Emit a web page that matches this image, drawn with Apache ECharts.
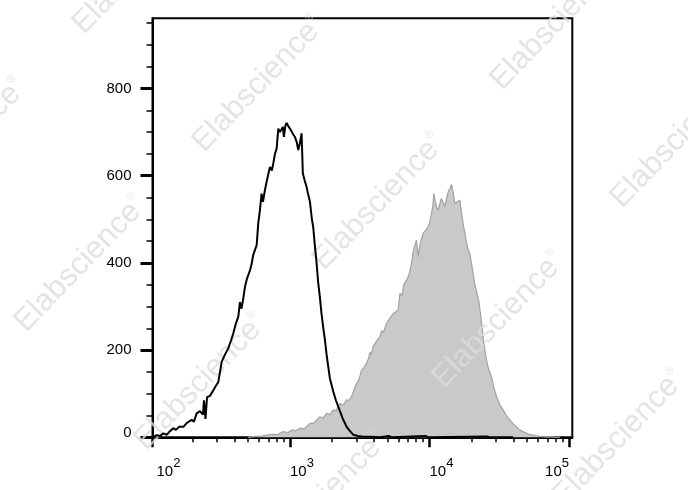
<!DOCTYPE html>
<html>
<head>
<meta charset="utf-8">
<script src="https://cdn.jsdelivr.net/npm/echarts@6/dist/echarts.min.js"></script>
<style>html,body{margin:0;padding:0;background:#fff}#c{width:688px;height:490px}</style>
</head>
<body>
<div id="c"></div>
<script>
// log10 fluorescence intensity (x) and event counts (y)
var blackLogX = [2.015,2.046,2.068,2.091,2.118,2.139,2.163,2.182,2.204,2.235,2.261,2.295,2.311,2.331,2.354,2.376,2.383,2.394,2.405,2.426,2.450,2.469,2.486,2.498,2.510,2.534,2.557,2.577,2.593,2.613,2.629,2.641,2.652,2.665,2.677,2.689,2.698,2.713,2.723,2.736,2.748,2.761,2.772,2.784,2.796,2.806,2.820,2.835,2.856,2.870,2.880,2.892,2.904,2.916,2.928,2.940,2.949,2.956,2.967,2.976,2.985,2.999,3.014,3.024,3.035,3.049,3.059,3.071,3.083,3.092,3.106,3.119,3.128,3.143,3.157,3.166,3.178,3.189,3.202,3.214,3.226,3.238,3.250,3.262,3.274,3.286,3.310,3.329,3.358,3.379,3.406,3.430,3.453,3.487,3.516,3.549,3.587,3.644,3.709,3.730,3.975,3.990,4.411,4.430,4.600];
var blackCount = [1,5,3,9,6,14,21,17,24,24,33,40,36,55,60,52,85,42,92,95,108,118,127,150,173,190,204,222,238,262,276,310,295,319,345,361,370,383,395,418,414,441,490,520,559,540,567,590,620,612,628,650,662,708,700,704,712,689,715,721,715,708,700,694,689,676,659,675,697,605,588,574,560,540,500,483,440,405,355,322,283,252,224,190,162,135,105,85,60,42,24,14,6,3,2,1,1,0,3,0,3,0,2,0,0];
var greyLogX = [2.700,2.748,2.799,2.832,2.870,2.906,2.951,2.985,3.014,3.042,3.071,3.100,3.128,3.143,3.166,3.186,3.214,3.236,3.262,3.286,3.310,3.329,3.358,3.381,3.406,3.422,3.441,3.458,3.477,3.494,3.513,3.530,3.549,3.562,3.573,3.583,3.596,3.619,3.644,3.659,3.669,3.692,3.709,3.723,3.740,3.759,3.775,3.788,3.802,3.816,3.836,3.849,3.859,3.871,3.881,3.890,3.907,3.919,3.931,3.943,3.955,3.974,3.990,4.003,4.015,4.024,4.031,4.038,4.049,4.062,4.074,4.085,4.095,4.110,4.120,4.134,4.146,4.158,4.164,4.171,4.182,4.196,4.217,4.228,4.241,4.253,4.266,4.278,4.289,4.300,4.313,4.325,4.337,4.354,4.373,4.390,4.409,4.425,4.445,4.461,4.481,4.504,4.528,4.551,4.576,4.597,4.624,4.647,4.671,4.698,4.719,4.743,4.776,4.805,4.839,4.877,4.934];
var greyCount = [0,2,3,5,7,6,13,11,17,15,21,19,28,32,32,38,47,44,55,52,63,60,78,74,86,84,93,108,124,132,154,160,170,180,195,190,208,220,231,245,240,261,270,268,284,288,292,330,325,350,361,370,380,399,420,435,452,414,440,455,468,475,483,495,514,530,559,556,530,521,535,548,540,529,545,563,570,580,583,560,536,540,544,520,490,470,445,430,422,400,376,350,335,312,265,215,177,155,139,115,93,75,63,50,40,32,24,17,13,9,6,5,3,2,1,1,0];

var xMin = 2.014, xMax = 5.024;
var yMin = 0, yMax = 961;
var xMajorTicks = [2.014, 3, 4, 5];
var xMajorLabels = [2.014, 3, 4];
var xLastLabel = [5];
var xMinorTicks = [2.301,2.477,2.602,2.699,2.778,2.845,2.903,2.954,3.301,3.477,3.602,3.699,3.778,3.845,3.903,3.954,4.301,4.477,4.602,4.699,4.778,4.845,4.903,4.954];
var yMajorTicks = [0, 200, 400, 600, 800];
var yMinorTicks = [50,100,150,250,300,350,450,500,550,650,700,750,850,900,950];
var watermarkText = 'Elabscience';
var watermarkSpots = [[195,150],[315,268],[435,386],[555,504],[75,32],[17,330],[137,448],[257,566],[493,88],[613,206],[-103,212]];

var FONT = "'Liberation Sans', Arial, Helvetica, sans-serif";

function pairs(xs, ys) { return xs.map(function (x, i) { return [x, ys[i]]; }); }

var rich = {
  b: {fontSize: 15, lineHeight: 22, fontFamily: FONT, color: '#000', verticalAlign: 'bottom'},
  p: {fontSize: 15, lineHeight: 22, fontFamily: FONT, color: '#000', verticalAlign: 'bottom', padding: [0, 0, 0, 4]},
  s: {fontSize: 13, lineHeight: 8, fontFamily: FONT, color: '#000', verticalAlign: 'top'}
};
function expLabel(v) {
  var e = Math.round(v);
  return (e === 2 ? '{p|10}' : '{b|10}') + '{s|' + e + '}';
}
var yRich = {
  n: {fontSize: 15, fontFamily: FONT, color: '#000'},
  z: {fontSize: 15, fontFamily: FONT, color: '#000', padding: [0, 0, 8, 0]}
};
function yLabel(v) { return v === 0 ? '{z|0}' : '{n|' + v + '}'; }

var ang = 46 * Math.PI / 180;
var dir = [Math.cos(ang), -Math.sin(ang)];
var WM = 'rgba(220,220,220,0.78)';
var graphics = watermarkSpots.map(function (p) {
  return {
    type: 'text', x: p[0] + dir[0] * 4, y: p[1] + dir[1] * 4, rotation: ang, z: 3, silent: true,
    style: {
      text: '{a|' + watermarkText + '}{r|®}',
      fill: WM, fontFamily: FONT, fontSize: 31,
      verticalAlign: 'middle', align: 'left',
      rich: {
        a: {fontSize: 31, fontFamily: FONT, fill: WM},
        r: {fontSize: 11, fontFamily: FONT, fill: WM, verticalAlign: 'top'}
      }
    }
  };
});

var chart = echarts.init(document.getElementById('c'), null, {renderer: 'canvas'});
chart.setOption({
  animation: false,
  backgroundColor: '#fff',
  grid: {left: 152.5, right: 115.7, top: 18.3, bottom: 52.7, show: true, borderColor: '#000', borderWidth: 2, backgroundColor: 'transparent'},
  xAxis: [{
    type: 'value', min: xMin, max: xMax, position: 'bottom',
    axisLine: {show: true, lineStyle: {color: '#000', width: 2}},
    axisTick: {show: true, customValues: xMajorTicks, length: 10, lineStyle: {color: '#000', width: 2.5}},
    axisLabel: {show: true, customValues: xMajorLabels, formatter: expLabel, align: 'left', margin: 20, rich: rich},
    splitLine: {show: false}
  }, {
    type: 'value', min: xMin, max: xMax, position: 'bottom', offset: 0,
    axisLine: {show: false},
    axisTick: {show: true, customValues: xMinorTicks, length: 5, lineStyle: {color: '#000', width: 1.5}},
    axisLabel: {show: true, customValues: xLastLabel, formatter: expLabel, align: 'right', margin: 20, rich: rich},
    splitLine: {show: false}
  }],
  yAxis: [{
    type: 'value', min: yMin, max: yMax, position: 'left',
    axisLine: {show: true, lineStyle: {color: '#000', width: 2}},
    axisTick: {show: true, customValues: yMajorTicks, length: 12, lineStyle: {color: '#000', width: 3}},
    axisLabel: {show: true, customValues: yMajorTicks, margin: 21, formatter: yLabel, rich: yRich},
    splitLine: {show: false}
  }, {
    type: 'value', min: yMin, max: yMax, position: 'left', offset: 0,
    axisLine: {show: false},
    axisTick: {show: true, customValues: yMinorTicks, length: 6, lineStyle: {color: '#000', width: 1.5}},
    axisLabel: {show: false},
    splitLine: {show: false}
  }],
  graphic: graphics,
  series: [{
    type: 'line', xAxisIndex: 0, yAxisIndex: 0, z: 2,
    data: pairs(greyLogX, greyCount), symbol: 'none', smooth: false,
    lineStyle: {color: '#a2a2a2', width: 1.2},
    areaStyle: {color: '#c9c9c9', opacity: 1}
  }, {
    type: 'line', xAxisIndex: 0, yAxisIndex: 0, z: 4,
    data: pairs(blackLogX, blackCount), symbol: 'none', smooth: false,
    lineStyle: {color: '#000', width: 2}
  }]
});
</script>
</body>
</html>
